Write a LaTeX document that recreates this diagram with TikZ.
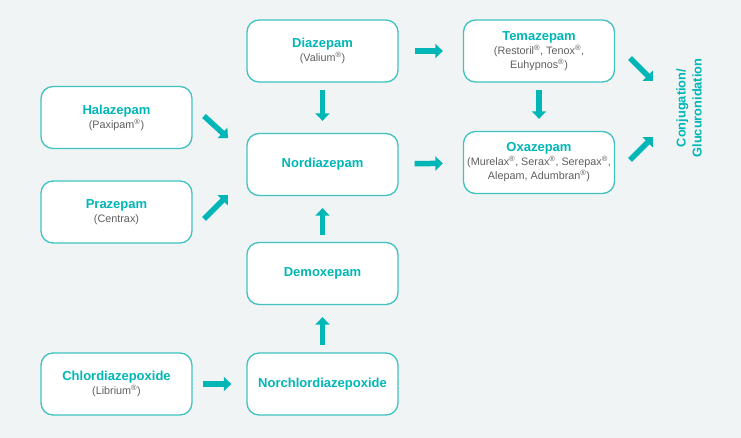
\documentclass[tikz,border=0pt]{standalone}
\usepackage{fontspec}
\setmainfont{Liberation Sans}
\usepackage{xcolor}
\usetikzlibrary{arrows.meta,positioning}
\definecolor{tealtxt}{RGB}{0,182,182}
\definecolor{tealline}{RGB}{64,194,194}
\definecolor{greytxt}{RGB}{95,95,95}
\definecolor{bgcol}{RGB}{241,244,244}
\newcommand{\reg}{\textsuperscript{\textregistered}}
\newcommand{\drugname}{\fontsize{13}{14}\selectfont\bfseries\color{tealtxt}}
\newcommand{\brand}{\fontsize{10.8}{14}\selectfont\color{greytxt}}

\begin{document}
\begin{tikzpicture}[x=1pt,y=-1pt]
  \tikzstyle{block} = [rectangle, draw=tealline, line width=1.3pt, fill=white,
  align=center, rounded corners=12pt, minimum height=62pt, minimum width=151pt,
  inner xsep=1pt, font=\fontsize{10.8}{14}\selectfont]
  \tikzstyle{flow} = [draw=tealtxt, line width=5.5pt, -{Triangle[length=7.5pt,width=14pt]}]
  \tikzstyle{gapH} = [shorten <=16pt, shorten >=20pt]
  \tikzstyle{gapV} = [shorten <=7pt, shorten >=12pt]
\fill [bgcol] (0,0) rectangle (741,438);
\useasboundingbox (0,0) rectangle (741,438);
\node [block] (diaz) at (322.5,51) {{\drugname Diazepam}\\{\brand (Valium\reg)}};
\node [block] (tema) at (539,51) {{\drugname Temazepam}\\{\brand (Restoril\reg, Tenox\reg,}\\{\brand Euhypnos\reg)}};
\node [block] (hala) at (116.5,117.5) {{\drugname Halazepam}\\{\brand (Paxipam\reg)}};
\node [block] (nord) at (322.5,164.5) {{\drugname Nordiazepam}};
\node [block] (oxa) at (539,162.5) {{\drugname Oxazepam}\\{\brand (Murelax\reg, Serax\reg, Serepax\reg,}\\{\brand Alepam, Adumbran\reg)}};
\node [block] (pra) at (116.5,212) {{\drugname Prazepam}\\{\brand (Centrax)}};
\node [block] (demox) at (322.5,273.5) {{\drugname Demoxepam}};
\node [block] (chlor) at (116.5,384) {{\drugname Chlordiazepoxide}\\{\brand (Librium\reg)}};
\node [block] (norchlor) at (322.5,384) {{\drugname Norchlordiazepoxide}};
\node [rotate=90, align=center, text=tealtxt, font=\fontsize{12.8}{16}\selectfont\bfseries] (conj) at (689,108) {Conjugation/\\Glucuronidation};
% ends of the slanted arrows
\coordinate (hala1) at (204,116);
\coordinate (hala2) at (228,138);
\coordinate (pra1) at (204,219);
\coordinate (pra2) at (228,195);
\coordinate (tema1) at (630,58);
\coordinate (tema2) at (653,81);
\coordinate (oxa1) at (630,160);
\coordinate (oxa2) at (653,137);
\path [flow, gapH] (diaz) -- (tema);
\path [flow, gapH] (nord) -- (oxa);
\path [flow, gapV] (diaz) -- (nord);
\path [flow, gapV] (tema) -- (oxa);
\path [flow, gapV] (demox) -- (nord);
\path [flow, gapV] (norchlor) -- (demox);
\path [flow, shorten <=10pt, shorten >=15pt] (chlor) -- (norchlor);
\path [flow] (hala1) -- (hala2);
\path [flow] (pra1) -- (pra2);
\path [flow] (tema1) -- (tema2);
\path [flow] (oxa1) -- (oxa2);
\end{tikzpicture}
\end{document}
